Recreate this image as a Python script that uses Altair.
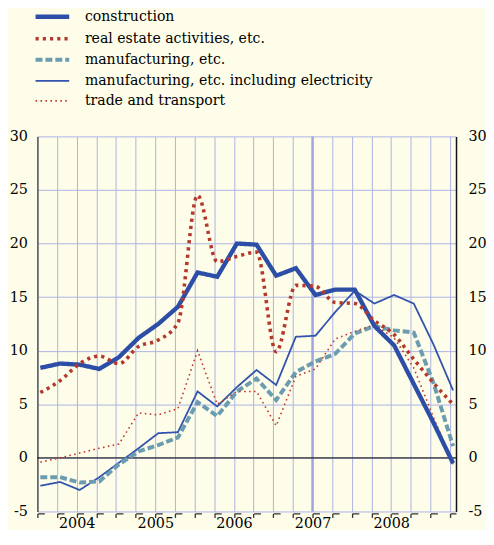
import json
import altair as alt
import pandas as pd

# ---------------- data ----------------
years = ["2004", "2005", "2006", "2007", "2008"]
series_names = [
    "construction",
    "real estate activities, etc.",
    "manufacturing, etc.",
    "manufacturing, etc. including electricity",
    "trade and transport",
]
construction = [8.4, 8.8, 8.7, 8.3, 9.4, 11.2, 12.5, 14.1, 17.3, 16.9, 20.0,
                19.9, 17.0, 17.7, 15.2, 15.7, 15.7, 12.3, 10.5, 6.9, 3.3, -0.5]
real_estate = [6.1, 7.2, 8.8, 9.5, 8.8, 10.4, 11.0, 12.6, 24.5, 18.3, 18.8,
               19.2, 9.9, 16.1, 16.0, 14.5, 14.4, 12.8, 11.5, 9.2, 7.0, 5.0]
manufacturing = [-1.8, -1.8, -2.3, -2.2, -0.6, 0.6, 1.2, 1.9, 5.2, 3.9, 6.2,
                 7.4, 5.4, 8.0, 9.0, 9.7, 11.6, 12.3, 11.9, 11.7, 7.0, 1.1]
manufacturing_elec = [-2.6, -2.25, -3.0, -1.8, -0.45, 0.9, 2.3, 2.4, 6.2, 4.8, 6.6,
                      8.2, 6.8, 11.3, 11.4, 13.6, 15.6, 14.4, 15.2, 14.4, 10.6, 6.3]
trade_transport = [-0.4, 0.0, 0.45, 0.9, 1.3, 4.2, 4.0, 4.6, 10.0, 5.0, 6.2,
                   6.2, 3.0, 7.6, 8.3, 11.1, 11.8, 12.4, 11.2, 8.4, 3.8, -0.6]
quarter_ticks = list(range(22))
marker_quarter = [14]          # vertical marker line (start of 2007)
zero_level = [0]
y_ticks = [-5, 0, 5, 10, 15, 20, 25, 30]

# ---------------- styles ----------------
FONT = "DejaVu Serif"
AX_FS = 14.5
LEG_FS = 14.2
BG = "#fdfde9"
GRID = "#adb3e6"
W, H = 423, 379
PAD = {"left": 29.7, "top": 127, "right": 30.3, "bottom": 16}
X_DOMAIN = [0, 21.3]
OBS_SHIFT = 0.15
spacing = W / (X_DOMAIN[1] - X_DOMAIN[0])

colors = ["#2c4ea6", "#b4382c", "#6b9cb0", "#3153ad", "#c0392b"]
dashes = [[1, 0], [3.2, 4.1], [7, 3], [1, 0], [1.6, 3.4]]
widths = [4.4, 3.6, 4.0, 1.8, 1.6]

rows = []
for name, vals in zip(series_names, [construction, real_estate, manufacturing,
                                     manufacturing_elec, trade_transport]):
    for i, v in enumerate(vals):
        rows.append({"series": name, "q": i + OBS_SHIFT, "value": v})
df = pd.DataFrame(rows)

xscale = alt.Scale(domain=X_DOMAIN, nice=False, zero=False)
yscale = alt.Scale(domain=[-5, 30], nice=False, zero=False)

year_js = json.dumps(years)
x_axis = alt.Axis(
    values=quarter_ticks, grid=True, gridColor=GRID, gridWidth=1,
    domainColor="#333333", domainWidth=1.3, domainDash=[7, spacing - 7],
    ticks=True, tickColor="#333333", tickSize=4, tickWidth=1.3, offset=2,
    labelExpr=f"datum.value % 4 == 2 ? {year_js}[(datum.value - 2) / 4] : ''",
    labelFont=FONT, labelFontSize=AX_FS, labelColor="black", labelPadding=-1,
    labelFlush=False, labelOverlap=False, title=None,
)
left_axis = alt.Axis(
    orient="left", values=y_ticks, grid=True, gridColor=GRID, gridWidth=1,
    ticks=False, tickSize=0, domainColor="#555555", domainWidth=1.5,
    labelPadding=10, labelFont=FONT, labelFontSize=AX_FS, labelColor="black",
    labelExpr="'' + datum.value", title=None,
)
right_axis = alt.Axis(
    orient="right", values=y_ticks, grid=False,
    ticks=False, tickSize=0, domainColor="#111111", domainWidth=1.5,
    labelPadding=12, labelFont=FONT, labelFontSize=AX_FS, labelColor="black",
    labelExpr="'' + datum.value", title=None,
)
legend = alt.Legend(
    orient="none", legendX=8.05, legendY=-128, title=None, direction="vertical",
    labelFont=FONT, labelFontSize=LEG_FS, labelColor="black", labelLimit=500,
    symbolType="M-3.78,0H3.78", symbolSize=81, symbolOffset=0, labelOffset=25.75,
    rowPadding=5.25, padding=0,
)

color_enc = alt.Color("series:N", scale=alt.Scale(domain=series_names, range=colors), legend=legend)
dash_enc = alt.StrokeDash("series:N", scale=alt.Scale(domain=series_names, range=dashes), legend=legend)
width_enc = alt.StrokeWidth("series:N", scale=alt.Scale(type="ordinal", domain=series_names, range=widths), legend=legend)

marker = alt.Chart(pd.DataFrame({"q": marker_quarter})).mark_rule(
    color="#a0a8e0", strokeWidth=2.5
).encode(x=alt.X("q:Q", scale=xscale, axis=x_axis))

zero = alt.Chart(pd.DataFrame({"v": zero_level})).mark_rule(
    color="black", strokeWidth=1
).encode(y=alt.Y("v:Q", scale=yscale, axis=left_axis))


def series_layer(name, interp, axis):
    return alt.Chart(df[df.series == name]).mark_line(
        interpolate=interp, strokeCap="butt"
    ).encode(
        x=alt.X("q:Q", scale=xscale, axis=x_axis),
        y=alt.Y("value:Q", scale=yscale, axis=axis),
        color=color_enc, strokeDash=dash_enc, strokeWidth=width_enc,
    )


layers = [
    series_layer(series_names[3], "linear", right_axis),
    series_layer(series_names[2], "linear", None),
    series_layer(series_names[4], "linear", None),
    series_layer(series_names[0], "linear", None),
    series_layer(series_names[1], "monotone", None),
]

chart = alt.layer(marker, zero, *layers).resolve_axis(y="independent").properties(
    width=W, height=H, padding=PAD,
    autosize=alt.AutoSizeParams(type="none"),
).configure(background=BG, font=FONT).configure_view(stroke=None, fill=BG)

chart.save("out.html", embed_options={"renderer": "svg", "actions": False})
